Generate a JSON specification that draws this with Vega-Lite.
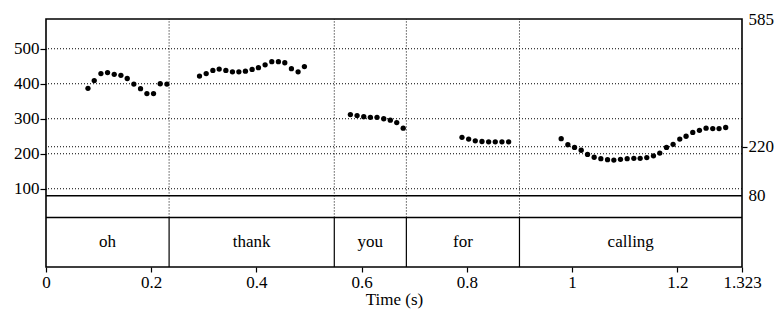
{
  "$schema": "https://vega.github.io/schema/vega-lite/v6.json",
  "width": 696,
  "height": 248,
  "autosize": "none",
  "padding": {"left": 46, "top": 19, "right": 37, "bottom": 49},
  "background": "white",
  "config": {
    "view": {"stroke": "black", "strokeWidth": 1.6},
    "font": "Liberation Serif",
    "axis": {"labelColor": "black", "titleColor": "black", "tickColor": "black", "labelFont": "Liberation Serif", "titleFont": "Liberation Serif"}
  },
  "datasets": {
    "pitch": [
      {"t": 0.0798, "hz": 387}, {"t": 0.0917, "hz": 409}, {"t": 0.1044, "hz": 429}, {"t": 0.117, "hz": 432},
      {"t": 0.1297, "hz": 427}, {"t": 0.1424, "hz": 424}, {"t": 0.1544, "hz": 415}, {"t": 0.167, "hz": 399},
      {"t": 0.1797, "hz": 386}, {"t": 0.1918, "hz": 372}, {"t": 0.2044, "hz": 372}, {"t": 0.2171, "hz": 400},
      {"t": 0.2298, "hz": 399},
      {"t": 0.2918, "hz": 422}, {"t": 0.3045, "hz": 429}, {"t": 0.3172, "hz": 438}, {"t": 0.3292, "hz": 442},
      {"t": 0.3419, "hz": 438}, {"t": 0.3544, "hz": 434}, {"t": 0.3666, "hz": 434}, {"t": 0.3791, "hz": 436},
      {"t": 0.3918, "hz": 441}, {"t": 0.4038, "hz": 446}, {"t": 0.4165, "hz": 454}, {"t": 0.4292, "hz": 463},
      {"t": 0.4418, "hz": 463}, {"t": 0.4539, "hz": 460}, {"t": 0.4665, "hz": 443}, {"t": 0.4792, "hz": 434},
      {"t": 0.4912, "hz": 449},
      {"t": 0.5786, "hz": 312}, {"t": 0.5913, "hz": 309}, {"t": 0.604, "hz": 306}, {"t": 0.6166, "hz": 304},
      {"t": 0.6292, "hz": 304}, {"t": 0.642, "hz": 300}, {"t": 0.6545, "hz": 296}, {"t": 0.6667, "hz": 289},
      {"t": 0.679, "hz": 273},
      {"t": 0.7907, "hz": 247}, {"t": 0.8034, "hz": 242}, {"t": 0.816, "hz": 237}, {"t": 0.8287, "hz": 235},
      {"t": 0.8414, "hz": 234}, {"t": 0.854, "hz": 234}, {"t": 0.8667, "hz": 234}, {"t": 0.8794, "hz": 234},
      {"t": 0.9793, "hz": 243}, {"t": 0.992, "hz": 226}, {"t": 1.0047, "hz": 218}, {"t": 1.0173, "hz": 210},
      {"t": 1.0294, "hz": 198}, {"t": 1.042, "hz": 190}, {"t": 1.0547, "hz": 186}, {"t": 1.0674, "hz": 183},
      {"t": 1.0794, "hz": 182}, {"t": 1.092, "hz": 184}, {"t": 1.1047, "hz": 186}, {"t": 1.1174, "hz": 187},
      {"t": 1.1294, "hz": 187}, {"t": 1.142, "hz": 189}, {"t": 1.1547, "hz": 194}, {"t": 1.1667, "hz": 202},
      {"t": 1.1795, "hz": 218}, {"t": 1.192, "hz": 227}, {"t": 1.2047, "hz": 242}, {"t": 1.2167, "hz": 250},
      {"t": 1.2294, "hz": 261}, {"t": 1.2421, "hz": 267}, {"t": 1.2547, "hz": 273}, {"t": 1.2674, "hz": 272},
      {"t": 1.2794, "hz": 272}, {"t": 1.292, "hz": 275}
    ],
    "words": [
      {"word": "oh", "start": 0, "end": 0.234},
      {"word": "thank", "start": 0.234, "end": 0.548},
      {"word": "you", "start": 0.548, "end": 0.685},
      {"word": "for", "start": 0.685, "end": 0.9},
      {"word": "calling", "start": 0.9, "end": 1.323}
    ],
    "grid": [{"hz": 100}, {"hz": 200}, {"hz": 300}, {"hz": 400}, {"hz": 500}, {"hz": 220}],
    "lines": [{"hz": 80}, {"hz": 18}]
  },
  "resolve": {"axis": {"y": "independent"}},
  "layer": [
    {
      "data": {"name": "grid"},
      "mark": {"type": "rule", "color": "black", "strokeWidth": 1, "strokeDash": [1, 2]},
      "encoding": {
        "y": {"field": "hz", "type": "quantitative", "scale": {"domain": [-123.6, 585], "nice": false, "zero": false}, "axis": null}
      }
    },
    {
      "data": {"name": "words"},
      "transform": [{"filter": "datum.end < 1.3"}],
      "mark": {"type": "rule", "color": "black", "strokeWidth": 1, "strokeDash": [1, 2]},
      "encoding": {
        "x": {"field": "end", "type": "quantitative", "scale": {"domain": [0, 1.323], "nice": false, "zero": false}},
        "y": {"datum": 18, "type": "quantitative", "scale": {"domain": [-123.6, 585], "nice": false, "zero": false}, "axis": null},
        "y2": {"datum": 585}
      }
    },
    {
      "data": {"name": "words"},
      "transform": [{"filter": "datum.end < 1.3"}],
      "mark": {"type": "rule", "color": "black", "strokeWidth": 1.2},
      "encoding": {
        "x": {"field": "end", "type": "quantitative", "scale": {"domain": [0, 1.323], "nice": false, "zero": false}},
        "y": {"datum": -123.6, "type": "quantitative", "scale": {"domain": [-123.6, 585], "nice": false, "zero": false}, "axis": null},
        "y2": {"datum": 18}
      }
    },
    {
      "data": {"name": "lines"},
      "mark": {"type": "rule", "color": "black", "strokeWidth": 1.4},
      "encoding": {
        "y": {"field": "hz", "type": "quantitative", "scale": {"domain": [-123.6, 585], "nice": false, "zero": false}, "axis": null}
      }
    },
    {
      "data": {"name": "words"},
      "transform": [{"calculate": "(datum.start + datum.end) / 2", "as": "mid"}],
      "mark": {"type": "text", "fontSize": 17, "font": "Liberation Serif", "color": "black", "baseline": "middle", "align": "center"},
      "encoding": {
        "x": {"field": "mid", "type": "quantitative", "scale": {"domain": [0, 1.323], "nice": false, "zero": false}},
        "y": {"datum": -52.8, "type": "quantitative", "scale": {"domain": [-123.6, 585], "nice": false, "zero": false}, "axis": null},
        "text": {"field": "word"}
      }
    },
    {
      "data": {"name": "grid"},
      "transform": [{"filter": "datum.hz == 220"}],
      "mark": {"type": "rule", "opacity": 0},
      "encoding": {
        "y": {"field": "hz", "type": "quantitative", "scale": {"domain": [-123.6, 585], "nice": false, "zero": false},
          "axis": {"orient": "right", "values": [80, 220, 585], "domain": false, "grid": false, "title": null,
            "tickSize": 5, "tickWidth": 1.2, "tickOpacity": {"condition": {"test": "datum.value == 220", "value": 1}, "value": 0},
            "labelFontSize": 17, "labelPadding": 1, "labelFlush": false, "labelOverlap": false, "labelBound": false}}
      }
    },
    {
      "data": {"name": "pitch"},
      "mark": {"type": "circle", "color": "black", "opacity": 1, "size": 28},
      "encoding": {
        "x": {"field": "t", "type": "quantitative", "scale": {"domain": [0, 1.323], "nice": false, "zero": false},
          "axis": {"values": [0, 0.2, 0.4, 0.6, 0.8, 1, 1.2, 1.323], "labelExpr": "datum.value + ''", "domain": false, "grid": false,
            "tickSize": 5, "tickWidth": 1.2, "labelFontSize": 17, "labelPadding": 2, "labelFlush": false, "labelOverlap": false,
            "title": "Time (s)", "titleFontSize": 17, "titleFontWeight": "normal", "titlePadding": 1}},
        "y": {"field": "hz", "type": "quantitative", "scale": {"domain": [-123.6, 585], "nice": false, "zero": false},
          "axis": {"values": [100, 200, 300, 400, 500], "domain": false, "grid": false, "title": null,
            "tickSize": 6, "tickWidth": 1.2, "labelFontSize": 17, "labelPadding": 1, "labelOverlap": false}}
      }
    }
  ]
}
